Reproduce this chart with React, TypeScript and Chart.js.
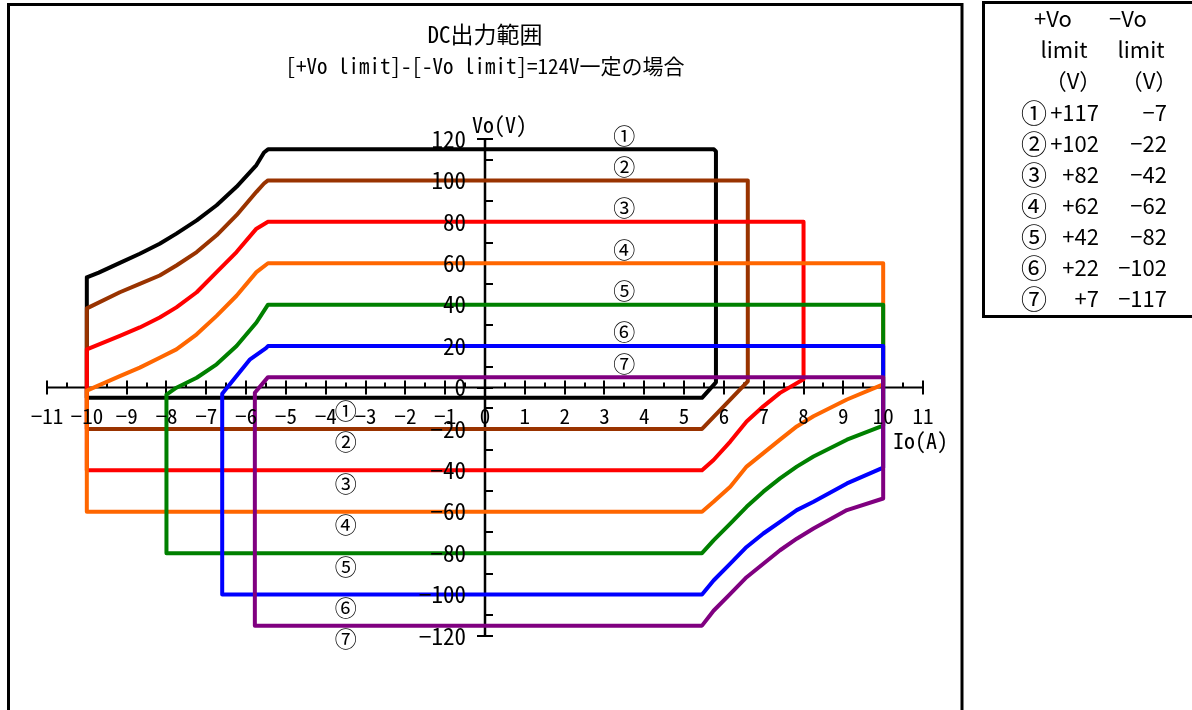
import { useEffect, useRef } from 'react';
import { Chart, registerables } from 'chart.js';

Chart.register(...registerables);

// ---- data ----
const seriesNames = ['①', '②', '③', '④', '⑤', '⑥', '⑦'];
const posLimits = [117, 102, 82, 62, 42, 22, 7];
const negLimits = [-7, -22, -42, -62, -82, -102, -117];
const seriesColors = ['#000000', '#993300', '#ff0000', '#ff6600', '#008000', '#0000ff', '#800080'];

const io1 = [-10, -9.7, -9.17, -8.67, -8.17, -7.75, -7.24, -6.74, -6.24, -5.74, -5.55, -5.45, 5.75, 5.8, 5.8, 5.45, -10, -10];
const vo1 = [53.2, 55.5, 60.2, 64.6, 69.4, 74.3, 80.7, 88, 96.9, 107.4, 113.5, 115, 115, 114, 2.5, -5, -5, 53.2];

const io2 = [-10, -9.17, -8.67, -8.17, -7.75, -7.24, -6.74, -6.24, -5.74, -5.55, -5.45, 6.6, 6.6, 5.5, 5.45, -10, -10];
const vo2 = [38.2, 46, 50, 54.1, 58.9, 65.4, 73.5, 83.2, 94.5, 98.5, 100, 100, 3, -19, -20, -20, 38.2];

const io3 = [-10, -9.17, -8.67, -8.17, -7.75, -7.24, -6.74, -6.24, -5.74, -5.45, 8, 8, 7.41, 6.99, 6.57, 6.16, 5.74, 5.45, -10, -10];
const vo3 = [18.4, 24.9, 29, 33.8, 38.7, 46, 55.7, 65.4, 76.7, 80, 80, 4, -2.6, -9.1, -16.4, -26.1, -35, -40, -40, 18.4];

const io4 = [-10, -9.17, -8.67, -8.17, -7.75, -7.24, -6.74, -6.24, -5.74, -5.45, 10, 10, 9.09, 8.25, 7.83, 7.41, 6.99, 6.57, 6.16, 5.74, 5.45, -10, -10];
const vo4 = [-1.5, 5.5, 9.6, 14.4, 18.4, 25.7, 34.6, 44.3, 55.7, 60, 60, 1.5, -5.8, -13.9, -18.8, -25.2, -31.7, -38.2, -47.9, -55.2, -60, -60, -1.5];

const io5 = [-8, -7.75, -7.24, -6.74, -6.24, -5.74, -5.45, 10, 10, 9.09, 8.25, 7.83, 7.41, 6.99, 6.57, 6.16, 5.74, 5.45, -8, -8];
const vo5 = [-3.4, -0.1, 4.7, 11.2, 20, 31.4, 40, 40, -18.4, -25.2, -33.3, -38.2, -43.9, -50.3, -57.6, -65.7, -73.8, -80, -80, -3.4];

const io6 = [-6.6, -6.24, -5.9, -5.5, -5.45, 10, 10, 9.09, 8.25, 7.83, 7.41, 6.99, 6.57, 6.16, 5.74, 5.45, -6.6, -6.6];
const vo6 = [-3, 5.5, 13.6, 19, 20, 20, -38.7, -46.3, -55.2, -59.2, -64.9, -70.5, -77, -85.1, -93.2, -100, -100, -3];

const io7 = [-5.78, -5.45, 10, 10, 9.09, 8.25, 7.83, 7.41, 6.99, 6.57, 6.16, 5.74, 5.45, -5.78, -5.78];
const vo7 = [-2.5, 5, 5, -53.6, -59.2, -68.1, -73, -78.6, -85.1, -91.6, -99.7, -107.8, -115, -115, -2.5];

const ioSeries = [io1, io2, io3, io4, io5, io6, io7];
const voSeries = [vo1, vo2, vo3, vo4, vo5, vo6, vo7];

const xTicks = [-11, -10, -9, -8, -7, -6, -5, -4, -3, -2, -1, 0, 1, 2, 3, 4, 5, 6, 7, 8, 9, 10, 11];
const yTicks = [120, 100, 80, 60, 40, 20, 0, -20, -40, -60, -80, -100, -120];
const titleLines = ['DC出力範囲', '[+Vo limit]-[-Vo limit]=124V一定の場合'];
const xTitle = 'Io(A)';
const yTitle = 'Vo(V)';
const tableHeader1 = ['+Vo', '−Vo'];
const tableHeader2 = ['limit', 'limit'];
const tableHeader3 = ['（V）', '（V）'];

const MONO = "'Noto Sans Mono CJK JP', 'Noto Sans CJK JP', sans-serif";
const PROP = "'Noto Sans CJK JP', sans-serif";

const fmt = (v: number) => (v < 0 ? '−' + Math.abs(v) : String(v));
const fmtSigned = (v: number) => (v < 0 ? '−' + Math.abs(v) : '+' + v);

const decorPlugin = {
  id: 'decor',
  beforeDraw(chart: any) {
    const ctx = chart.ctx as CanvasRenderingContext2D;
    ctx.save();
    ctx.fillStyle = '#ffffff';
    ctx.fillRect(0, 0, chart.width, chart.height);
    ctx.strokeStyle = '#000000';
    ctx.lineWidth = 3;
    ctx.strokeRect(8.5, 4.5, 953.5, 740);
    ctx.strokeRect(983.5, 2.5, 300, 314);
    ctx.restore();
  },
  beforeDatasetsDraw(chart: any) {
    const ctx = chart.ctx as CanvasRenderingContext2D;
    const xs = chart.scales.x;
    const ys = chart.scales.y;
    const x0 = xs.getPixelForValue(0);
    const y0 = ys.getPixelForValue(0);
    ctx.save();
    ctx.strokeStyle = '#000000';
    ctx.lineWidth = 2;
    ctx.lineCap = 'butt';
    // x axis
    ctx.beginPath();
    ctx.moveTo(xs.getPixelForValue(xTicks[0]), y0);
    ctx.lineTo(xs.getPixelForValue(xTicks[xTicks.length - 1]), y0);
    ctx.stroke();
    for (let i = 0; i < xTicks.length; i++) {
      const px = Math.round(xs.getPixelForValue(xTicks[i]));
      ctx.beginPath();
      ctx.moveTo(px, y0 - 7);
      ctx.lineTo(px, y0 + 7);
      ctx.stroke();
      if (i < xTicks.length - 1) {
        const pm = Math.round(xs.getPixelForValue(xTicks[i] + 0.5));
        ctx.beginPath();
        ctx.moveTo(pm, y0 - 5);
        ctx.lineTo(pm, y0);
        ctx.stroke();
      }
    }
    // y axis
    ctx.lineWidth = 2.5;
    ctx.beginPath();
    ctx.moveTo(x0, ys.getPixelForValue(yTicks[0]));
    ctx.lineTo(x0, ys.getPixelForValue(yTicks[yTicks.length - 1]));
    ctx.stroke();
    ctx.lineWidth = 2;
    for (let i = 0; i < yTicks.length; i++) {
      const py = Math.round(ys.getPixelForValue(yTicks[i]));
      ctx.beginPath();
      ctx.moveTo(x0 - 8, py);
      ctx.lineTo(x0 + 8, py);
      ctx.stroke();
      if (i < yTicks.length - 1) {
        const pm = Math.round(ys.getPixelForValue(yTicks[i] - 10));
        ctx.beginPath();
        ctx.moveTo(x0, pm);
        ctx.lineTo(x0 + 8, pm);
        ctx.stroke();
      }
    }
    ctx.restore();
  },
  afterDatasetsDraw(chart: any) {
    const ctx = chart.ctx as CanvasRenderingContext2D;
    const xs = chart.scales.x;
    const ys = chart.scales.y;
    const x0 = xs.getPixelForValue(0);
    const y0 = ys.getPixelForValue(0);
    ctx.save();
    ctx.fillStyle = '#000000';
    ctx.textBaseline = 'middle';
    // x tick labels
    ctx.font = `21px ${MONO}`;
    ctx.textAlign = 'center';
    xTicks.forEach((v) => ctx.fillText(fmt(v), xs.getPixelForValue(v), y0 + 29));
    // y tick labels
    ctx.font = `23px ${MONO}`;
    ctx.textAlign = 'right';
    yTicks.forEach((v) => ctx.fillText(fmt(v), x0 - 19, ys.getPixelForValue(v)));
    // axis titles
    ctx.font = `22px ${MONO}`;
    ctx.textAlign = 'left';
    ctx.fillText(yTitle, x0 - 13, ys.getPixelForValue(120) - 14);
    ctx.textAlign = 'right';
    ctx.fillText(xTitle, xs.getPixelForValue(11) + 25, y0 + 53);
    // circled series labels
    ctx.font = `22px ${PROP}`;
    ctx.textAlign = 'center';
    for (let i = 0; i < seriesNames.length; i++) {
      const top = Math.max(...voSeries[i]);
      const bot = Math.min(...voSeries[i]);
      ctx.fillText(seriesNames[i], xs.getPixelForValue(3.5), ys.getPixelForValue(top) - 14);
      ctx.fillText(seriesNames[i], xs.getPixelForValue(-3.5), ys.getPixelForValue(bot) + 13);
    }
    // title
    ctx.textAlign = 'center';
    ctx.font = `23px ${MONO}`;
    ctx.fillText(titleLines[0], 485, 34);
    ctx.font = `21px ${MONO}`;
    ctx.fillText(titleLines[1], 485, 66);
    // table
    ctx.font = `22px ${PROP}`;
    ctx.textAlign = 'center';
    ctx.fillText(tableHeader1[0], 1053, 19);
    ctx.fillText(tableHeader1[1], 1128, 19);
    ctx.fillText(tableHeader2[0], 1064, 50);
    ctx.fillText(tableHeader2[1], 1141, 50);
    ctx.fillText(tableHeader3[0], 1073, 81);
    ctx.fillText(tableHeader3[1], 1149, 81);
    for (let i = 0; i < seriesNames.length; i++) {
      const y = 113 + 31 * i;
      ctx.textAlign = 'left';
      ctx.font = `26px ${PROP}`;
      ctx.fillText(seriesNames[i], 1021, y);
      ctx.font = `22px ${PROP}`;
      ctx.textAlign = 'right';
      ctx.fillText(fmtSigned(posLimits[i]), 1099, y);
      ctx.fillText(fmtSigned(negLimits[i]), 1167, y);
    }
    ctx.restore();
  },
};

export default function App() {
  const ref = useRef<HTMLCanvasElement>(null);
  useEffect(() => {
    if (!ref.current) return;
    const datasets = ioSeries.map((xs, i) => ({
      label: seriesNames[i],
      data: xs.map((x, k) => ({ x, y: voSeries[i][k] })),
      showLine: true,
      borderColor: seriesColors[i],
      backgroundColor: seriesColors[i],
      borderWidth: 4,
      pointRadius: 0,
      fill: false,
      tension: 0,
      borderJoinStyle: 'round' as const,
      borderCapStyle: 'round' as const,
      order: seriesNames.length - i,
    }));
    const chart = new Chart(ref.current, {
      type: 'scatter',
      data: { datasets },
      options: {
        animation: false,
        responsive: false,
        devicePixelRatio: 1,
        layout: { padding: { left: 47, right: 269, top: 139, bottom: 74 } },
        scales: {
          x: { type: 'linear', min: -11, max: 11, display: false },
          y: { type: 'linear', min: -120, max: 120, display: false },
        },
        plugins: {
          legend: { display: false },
          tooltip: { enabled: false },
          title: { display: false },
        },
      },
      plugins: [decorPlugin],
    });
    return () => chart.destroy();
  }, []);
  return (
    <div style={{ position: 'absolute', left: 0, top: 0, width: 1192, height: 710, background: '#fff' }}>
      <canvas ref={ref} width={1192} height={710} style={{ display: 'block', width: 1192, height: 710 }} />
    </div>
  );
}
